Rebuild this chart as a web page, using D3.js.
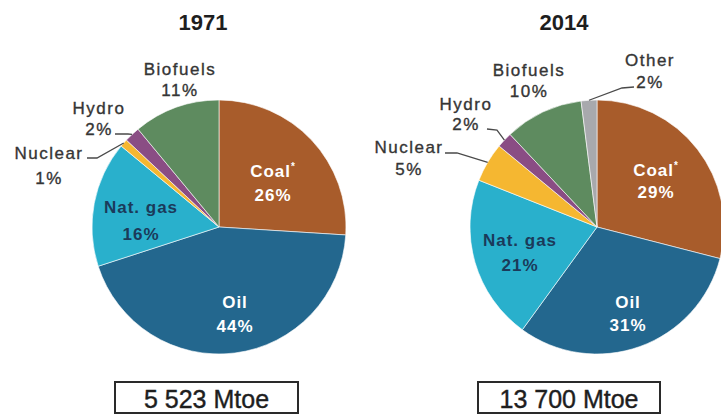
<!DOCTYPE html>
<html>
<head>
<meta charset="utf-8">
<script src="https://cdn.jsdelivr.net/npm/d3@7/dist/d3.min.js"></script>
<style>
    html,body{margin:0;padding:0;background:#fff;}
    svg{display:block;}
    text{font-family:"Liberation Sans",Arial,sans-serif;}
    .title{font-size:22px;font-weight:bold;fill:#1e1e1e;}
    .outer{font-size:17px;fill:#353535;stroke:#353535;stroke-width:0.35px;letter-spacing:1.5px;}
    .inner{font-size:17px;font-weight:bold;letter-spacing:1px;}
    .total{font-size:25px;fill:#1e1e1e;stroke:#1e1e1e;stroke-width:0.4px;}
    .leader{fill:none;stroke:#4a4a4a;stroke-width:1.3;}
</style>
</head>
<body>
<svg id="chart" width="721" height="416"></svg>
<script>
'use strict';

// values
var years=['1971','2014']
  , sources1971=['Coal','Oil','Nat. gas','Nuclear','Hydro','Biofuels']
  , shares1971=[26,44,16,1,2,11]
  , sources2014=['Coal','Oil','Nat. gas','Nuclear','Hydro','Biofuels','Other']
  , shares2014=[29,31,21,5,2,10,2]
  , totals=['5 523 Mtoe','13 700 Mtoe']

var colour=d3.scaleOrdinal()
    .domain(['Coal','Oil','Nat. gas','Nuclear','Hydro','Biofuels','Other'])
    .range(['#a85c2b','#23678e','#29b0cc','#f5b731','#8a4d84','#5e8b5f','#a8a9ad']);

// label style per source: inside (white / dark) or outside with a leader
var labelFill={'Coal':'#fff','Oil':'#fff','Nat. gas':'#1b3a5a'};

// layout of each pie: centre, title, box, label anchors [x, y line 1, y line 2]
var layout=[
    {
        cx:219, cy:227, r:127
      , title:[203,30]
      , box:[115,382,183,31]
      , labels:{
            'Coal':[273,177,201]
          , 'Oil':[235,308,332]
          , 'Nat. gas':[141,213,240]
          , 'Nuclear':[49,159,184]
          , 'Hydro':[99,114,135]
          , 'Biofuels':[180,75,96]
        }
      , leaders:{
            'Nuclear':[[87,158],[97,158]]
          , 'Hydro':[[115,134],[128,134]]
        }
    }
  , {
        cx:597, cy:227, r:127
      , title:[564,30]
      , box:[478,382,182,31]
      , labels:{
            'Coal':[656,176,198]
          , 'Oil':[628,308,331]
          , 'Nat. gas':[520,246,271]
          , 'Nuclear':[409,153,175]
          , 'Hydro':[466,110,130]
          , 'Biofuels':[529,76,97]
          , 'Other':[650,66,88]
        }
      , leaders:{
            'Nuclear':[[445,153],[457,153]]
          , 'Hydro':[[487,129],[497,130]]
          , 'Other':[[634,87],[622,88]]
        }
    }
];

var svg=d3.select('#chart');

svg.append('rect')
    .attr('width',721)
    .attr('height',416)
    .attr('fill','#fff');

var pie=d3.pie().sort(null).value(function(d){return d.value;});

function drawPie(i,sources,shares){
    var L=layout[i]
      , data=sources.map(function(s,k){return {name:s,value:shares[k]};})
      , arcs=pie(data)
      , arc=d3.arc().innerRadius(0).outerRadius(L.r)
      , edge=d3.arc().innerRadius(L.r).outerRadius(L.r)

    var g=svg.append('g')
        .attr('transform','translate('+L.cx+','+L.cy+')');

    g.selectAll('path.slice')
        .data(arcs)
        .enter()
        .append('path')
        .attr('class','slice')
        .attr('d',arc)
        .attr('fill',function(d){return colour(d.data.name);})
        .attr('stroke','#fff')
        .attr('stroke-width',0.6);

    // leader lines from the label to the slice edge
    arcs.forEach(function(d){
        var pts=L.leaders[d.data.name]
        if(!pts) return;
        var c=edge.centroid(d)
          , line=pts.concat([[c[0]+L.cx,c[1]+L.cy]])
        svg.append('path')
            .attr('class','leader')
            .attr('d',d3.line()(line));
    });

    // labels
    arcs.forEach(function(d){
        var name=d.data.name
          , p=L.labels[name]
          , inside=labelFill[name]!==undefined
          , cls=inside?'inner':'outer'

        var t=svg.append('text')
            .attr('class',cls)
            .attr('x',p[0])
            .attr('y',p[1])
            .attr('text-anchor','middle')
            .attr('fill',inside?labelFill[name]:null)
            .text(name);
        if(name==='Coal'){
            t.append('tspan')
                .attr('dy',-7)
                .attr('font-size',10)
                .text('*');
        }
        svg.append('text')
            .attr('class',cls)
            .attr('x',p[0])
            .attr('y',p[2])
            .attr('text-anchor','middle')
            .attr('fill',inside?labelFill[name]:null)
            .text(d.data.value+'%');
    });

    svg.append('text')
        .attr('class','title')
        .attr('x',L.title[0])
        .attr('y',L.title[1])
        .attr('text-anchor','middle')
        .text(years[i]);

    svg.append('rect')
        .attr('x',L.box[0])
        .attr('y',L.box[1])
        .attr('width',L.box[2])
        .attr('height',L.box[3])
        .attr('fill','#fff')
        .attr('stroke','#2a2a2a')
        .attr('stroke-width',2);

    svg.append('text')
        .attr('class','total')
        .attr('x',L.box[0]+L.box[2]/2)
        .attr('y',L.box[1]+26)
        .attr('text-anchor','middle')
        .text(totals[i]);
}

drawPie(0,sources1971,shares1971);
drawPie(1,sources2014,shares2014);
</script>
</body>
</html>
